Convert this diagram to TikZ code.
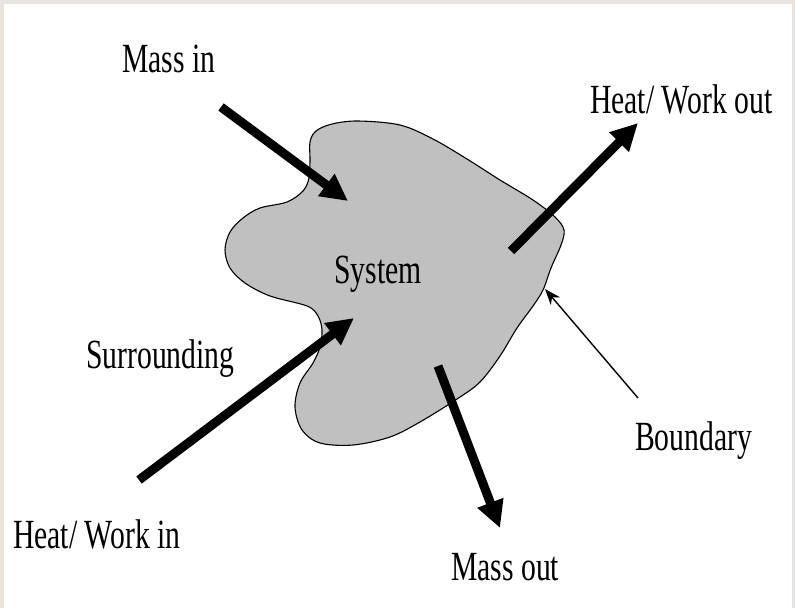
\documentclass[tikz,border=0pt]{standalone}
\usepackage{fontspec}
\setmainfont{Liberation Serif}[FakeStretch=0.715]
\usetikzlibrary{arrows.meta}
\definecolor{framecol}{RGB}{232,228,222}
\definecolor{blobgray}{RGB}{192,192,192}
\begin{document}
\begin{tikzpicture}[x=1pt,y=-1pt,
  lbl/.style={inner sep=0pt, anchor=base west, font=\fontsize{41.5}{45}\selectfont},
  bigarrow/.style={line width=9pt, -{Triangle[length=27pt,width=26pt]}},
  thinarrow/.style={line width=1.4pt, -{Stealth[length=16pt,width=12pt]}}]
\fill[framecol] (0,0) rectangle (795,608);
\fill[white] (4,4) rectangle (792,608);
\useasboundingbox (0,0) rectangle (795,608);
% system blob
\draw[fill=blobgray, line width=1.1pt] plot[smooth cycle, tension=0.55] coordinates {
 (310,160) (310,142) (316,131) (332,124) (358,121) (400,125) (433,139) (467,159)
 (500,180) (533,200) (555,217) (564,230) (561,245) (551,268) (543,290) (533,306)
 (517,328) (500,356) (480,382) (457,399) (420,422) (390,437) (353,445) (320,443)
 (302,430) (295,407) (300,383) (313,363) (320,347) (322,330) (318,316) (307,306)
 (270,296) (245,283) (230,268) (225,250) (230,232) (243,218) (260,208) (287,202)
 (303,191) (309,178)};
% labels
\node[lbl] (massin) at (122,72) {Mass in};
\node[lbl] (hwout) at (590,113) {Heat/ Work out};
\node[lbl] (system) at (334,283) {System};
\node[lbl] (surr) at (86,368) {Surrounding};
\node[lbl] (hwin) at (13,548) {Heat/ Work in};
\node[lbl] (bound) at (635,450) {Boundary};
\node[lbl] (massout) at (451,580) {Mass out};
% arrow ends
\coordinate (mi1) at (221,107); \coordinate (mi2) at (348,201);
\coordinate (ho1) at (511,251); \coordinate (ho2) at (638,123);
\coordinate (hi1) at (139,480); \coordinate (hi2) at (354,318);
\coordinate (mo1) at (438,366); \coordinate (mo2) at (500,528);
\coordinate (b1) at (638,398); \coordinate (b2) at (545,289);
\draw[bigarrow] (mi1) -- (mi2);
\draw[bigarrow] (ho1) -- (ho2);
\draw[bigarrow] (hi1) -- (hi2);
\draw[bigarrow] (mo1) -- (mo2);
\draw[thinarrow] (b1) -- (b2);
\end{tikzpicture}
\end{document}
